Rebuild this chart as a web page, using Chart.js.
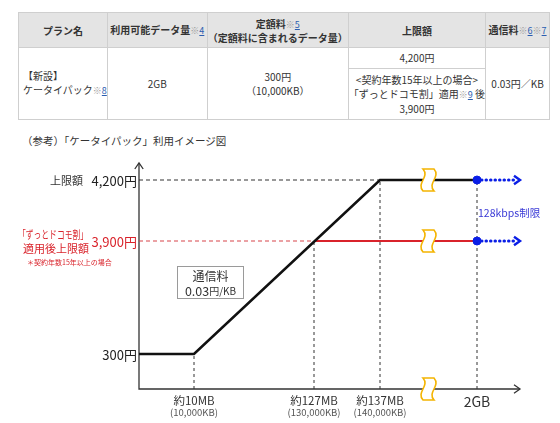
<!DOCTYPE html>
<html>
<head>
<meta charset="utf-8">
<script src="https://cdn.jsdelivr.net/npm/chart.js@4"></script>
<style>
  html, body { margin: 0; padding: 0; background: #fff; }
  body { width: 560px; height: 423px; position: relative; overflow: hidden;
         font-family: "Noto Sans CJK JP", "Noto Sans", sans-serif; color: #333; }
  #chart { position: absolute; left: 0; top: 0; }
  #plan { position: absolute; left: 18px; top: 12px; border-collapse: collapse;
          table-layout: fixed; font-size: 10px; z-index: 2; background: #fff; }
  #plan th, #plan td { border: 1px solid #cfcfcf; text-align: center; padding: 0;
          line-height: 14px; color: #333; white-space: nowrap; }
  #plan th { background: #e4e4e4; height: 34px; font-weight: bold; line-height: 13px; }
  #plan td.l { text-align: left; padding-left: 4px; }
  #plan td.r1 { padding: 3px 0; }
  #plan td.r2 { padding: 4px 0 3px; line-height: 14px; }
  #plan .n { color: #9a9a9a; font-weight: normal; font-size: 9px; }
  #plan .n u { color: #2a5db0; }
  #title { position: absolute; left: 22px; top: 133px; font-size: 10.5px; color: #333; white-space: nowrap; }
</style>
</head>
<body>
<table id="plan">
  <colgroup>
    <col style="width:88px"><col style="width:100px"><col style="width:137px">
    <col style="width:137px"><col style="width:64px">
  </colgroup>
  <tr>
    <th>プラン名</th>
    <th>利用可能データ量<span class="n">※<u>4</u></span></th>
    <th>定額料<span class="n">※<u>5</u></span><br>（定額料に含まれるデータ量）</th>
    <th>上限額</th>
    <th>通信料<span class="n">※<u>6</u>※<u>7</u></span></th>
  </tr>
  <tr>
    <td rowspan="2" class="l">【新設】<br>ケータイパック<span class="n">※<u>8</u></span></td>
    <td rowspan="2">2GB</td>
    <td rowspan="2">300円<br>（10,000KB）</td>
    <td class="r1">4,200円</td>
    <td rowspan="2">0.03円／KB</td>
  </tr>
  <tr>
    <td class="r2">&lt;契約年数15年以上の場合&gt;<br>「ずっとドコモ割」適用<span class="n">※<u>9</u></span> 後<br>3,900円</td>
  </tr>
</table>
<div id="title">（参考）「ケータイパック」利用イメージ図</div>
<canvas id="chart" width="560" height="423"></canvas>
<script>
// ---- data (KB on x, yen on y) ----
const usageKB   = [0, 10000, 140000, 2000000];        // base price plan line
const priceYen  = [300, 300, 4200, 4200];
const discStartKB = 130000;                           // where the discounted cap starts
const capYen    = 4200;
const discCapYen = 3900;
const limitKB   = 2000000;                            // 2GB -> 128kbps

const yTickValues = [4200, 3900, 300];
const yTickLabels = ['4,200円', '3,900円', '300円'];
const xTickValues = [10000, 130000, 140000, 2000000];
const xTickLabels = ['約10MB', '約127MB', '約137MB', '2GB'];
const xTickSubs   = ['(10,000KB)', '(130,000KB)', '(140,000KB)', ''];

// ---- schematic (broken) axes: value stops -> position along axis ----
const STOPS = {
    x: { v: [0, 10000, 130000, 140000, 2000000], f: [0, 55/381, 175/381, 241/381, 338/381] },
    y: { v: [0, 300, 3900, 4200],               f: [0, 35/226, 148/226, 209/226] }
};

function interp(val, from, to) {
    const n = from.length;
    let i = 0;
    while (i < n - 2 && val > from[i + 1]) i++;
    return to[i] + (val - from[i]) / (from[i + 1] - from[i]) * (to[i + 1] - to[i]);
}

class BreakScale extends Chart.LinearScale {
    getPixelForValue(value) {
        const s = STOPS[this.id];
        return this.getPixelForDecimal(interp(value, s.v, s.f));
    }
    getValueForPixel(pixel) {
        const s = STOPS[this.id];
        return interp(this.getDecimalForPixel(pixel), s.f, s.v);
    }
}
BreakScale.id = 'break';
BreakScale.defaults = Chart.LinearScale.defaults;
Chart.register(BreakScale);

const RED = '#d9232b';
const BLUE = '#0a1ee6';
const YELLOW = '#f4b400';
const FONT = '"Noto Sans CJK JP", "Noto Sans", sans-serif';

function seg(x1, y1, x2, y2) { return [{x: x1, y: y1}, {x: x2, y: y2}]; }

function lineSet(data, color, width, dash) {
    return { type: 'line', data: data, borderColor: color, borderWidth: width,
             borderDash: dash || [], pointRadius: 0, fill: false, tension: 0 };
}

function breakMark(ctx, cx, cy) {
    ctx.save();
    ctx.translate(cx, cy);
    ctx.beginPath();
    ctx.moveTo(-5, -11);
    ctx.lineTo(6, -11);
    ctx.bezierCurveTo(13, -3, -1, 3, 6, 11);
    ctx.lineTo(-5, 11);
    ctx.bezierCurveTo(-12, 3, 2, -3, -5, -11);
    ctx.closePath();
    ctx.fillStyle = '#fff';
    ctx.fill();
    ctx.lineWidth = 1.6;
    ctx.strokeStyle = YELLOW;
    ctx.stroke();
    ctx.restore();
}

function chevron(ctx, x, y, dx, dy, size, color, width) {
    // arrow head pointing along (dx,dy)
    const px = -dy, py = dx;
    ctx.save();
    ctx.beginPath();
    ctx.moveTo(x - dx * size + px * size * 0.7, y - dy * size + py * size * 0.7);
    ctx.lineTo(x, y);
    ctx.lineTo(x - dx * size - px * size * 0.7, y - dy * size - py * size * 0.7);
    ctx.strokeStyle = color;
    ctx.lineWidth = width;
    ctx.stroke();
    ctx.restore();
}

const diagram = {
    id: 'diagram',
    beforeDatasetsDraw(chart) {
        const {ctx, chartArea: a, scales: {x, y}} = chart;
        ctx.save();
        // axes
        ctx.strokeStyle = '#333';
        ctx.lineWidth = 1.3;
        ctx.beginPath();
        ctx.moveTo(a.left, a.top);
        ctx.lineTo(a.left, a.bottom);
        ctx.lineTo(a.right, a.bottom);
        ctx.stroke();
        chevron(ctx, a.left, a.top, 0, -1, 6, '#333', 1.3);
        chevron(ctx, a.right, a.bottom, 1, 0, 6, '#333', 1.3);
        // blue dotted arrows beyond 2GB
        [capYen, discCapYen].forEach(v => {
            const px = x.getPixelForValue(limitKB), py = y.getPixelForValue(v);
            ctx.beginPath();
            ctx.setLineDash([0.5, 4]);
            ctx.lineCap = 'round';
            ctx.lineWidth = 3;
            ctx.strokeStyle = BLUE;
            ctx.moveTo(px, py);
            ctx.lineTo(a.right - 3, py);
            ctx.stroke();
            ctx.setLineDash([]);
            ctx.lineCap = 'butt';
            chevron(ctx, a.right, py, 1, 0, 6, BLUE, 2.4);
        });
        ctx.restore();
    },
    afterDatasetsDraw(chart) {
        const {ctx, chartArea: a, scales: {x, y}} = chart;
        ctx.save();
        // break marks
        const bx = 428;
        [capYen, discCapYen].forEach(v => breakMark(ctx, bx, y.getPixelForValue(v)));
        breakMark(ctx, bx, a.bottom);

        // y tick labels
        ctx.textBaseline = 'middle';
        ctx.textAlign = 'right';
        yTickValues.forEach((v, i) => {
            ctx.font = '13px ' + FONT;
            ctx.fillStyle = v === discCapYen ? RED : '#222';
            ctx.fillText(yTickLabels[i], a.left - 2, y.getPixelForValue(v) + 1);
        });
        ctx.font = '11px ' + FONT;
        ctx.fillStyle = '#333';
        ctx.fillText('上限額', 83, y.getPixelForValue(capYen) + 1);

        const ry = y.getPixelForValue(discCapYen);
        ctx.fillStyle = RED;
        ctx.textAlign = 'center';
        ctx.font = '11px ' + FONT;
        ctx.fillText('「ずっとドコモ割」', 53, ry - 6, 70);
        ctx.fillText('適用後上限額', 56, ry + 8);
        ctx.font = '7px ' + FONT;
        ctx.textAlign = 'left';
        ctx.fillText('＊契約年数15年以上の場合', 27, ry + 21);

        // x tick labels
        ctx.textAlign = 'center';
        xTickValues.forEach((v, i) => {
            const px = x.getPixelForValue(v);
            if (xTickSubs[i]) {
                ctx.font = '11.5px ' + FONT;
                ctx.fillStyle = '#333';
                ctx.fillText(xTickLabels[i], px, a.bottom + 12);
                ctx.font = '9.5px ' + FONT;
                ctx.fillStyle = '#555';
                ctx.fillText(xTickSubs[i], px, a.bottom + 23);
            } else {
                ctx.font = '14px ' + FONT;
                ctx.fillStyle = '#333';
                ctx.fillText(xTickLabels[i], px, a.bottom + 13);
            }
        });

        // 128kbps note
        ctx.textAlign = 'left';
        ctx.font = '10.5px ' + FONT;
        ctx.fillStyle = '#3a3ad6';
        ctx.fillText('128kbps制限', x.getPixelForValue(limitKB) + 1, 213);

        // rate box
        ctx.fillStyle = '#fff';
        ctx.fillRect(177, 266, 67, 33);
        ctx.strokeStyle = '#9a9a9a';
        ctx.lineWidth = 1;
        ctx.strokeRect(177.5, 266.5, 66, 32);
        ctx.textAlign = 'center';
        ctx.fillStyle = '#333';
        ctx.font = '12px ' + FONT;
        ctx.fillText('通信料', 210.5, 276);
        ctx.font = '12.5px ' + FONT;
        const w1 = ctx.measureText('0.03').width;
        ctx.font = '10px ' + FONT;
        const w2 = ctx.measureText('円/KB').width;
        const sx = 210.5 - (w1 + w2) / 2;
        ctx.textAlign = 'left';
        ctx.font = '12.5px ' + FONT;
        ctx.fillText('0.03', sx, 291);
        ctx.font = '10px ' + FONT;
        ctx.fillText('円/KB', sx + w1, 291);
        ctx.restore();
    }
};

const toPoints = (xs, ys) => xs.map((v, i) => ({x: v, y: ys[i]}));

new Chart(document.getElementById('chart'), {
    type: 'line',
    data: {
        datasets: [
            { type: 'scatter', data: [{x: limitKB, y: capYen}, {x: limitKB, y: discCapYen}],
              pointRadius: 4, pointBackgroundColor: BLUE, pointBorderColor: BLUE, showLine: false },
            lineSet(toPoints(usageKB, priceYen), '#111', 2.6),
            lineSet(seg(discStartKB, discCapYen, limitKB, discCapYen), RED, 2),
            lineSet(seg(0, capYen, 140000, capYen), '#333', 1.2, [4, 3]),
            lineSet(seg(0, discCapYen, discStartKB, discCapYen), '#d8444a', 1.2, [4, 3]),
            lineSet(seg(10000, 0, 10000, 300), '#333', 1, [3, 3]),
            lineSet(seg(discStartKB, 0, discStartKB, discCapYen), '#333', 1, [3, 3]),
            lineSet(seg(140000, 0, 140000, capYen), '#333', 1, [3, 3]),
            lineSet(seg(limitKB, 0, limitKB, capYen), '#333', 1, [3, 3])
        ]
    },
    options: {
        responsive: false,
        animation: false,
        layout: { padding: { left: 139, right: 40, top: 163, bottom: 34 } },
        plugins: { legend: { display: false }, tooltip: { enabled: false } },
        scales: {
            x: { type: 'break', display: false, min: 0, max: 2500000 },
            y: { type: 'break', display: false, min: 0, max: 4500 }
        }
    },
    plugins: [diagram]
});
</script>
</body>
</html>
